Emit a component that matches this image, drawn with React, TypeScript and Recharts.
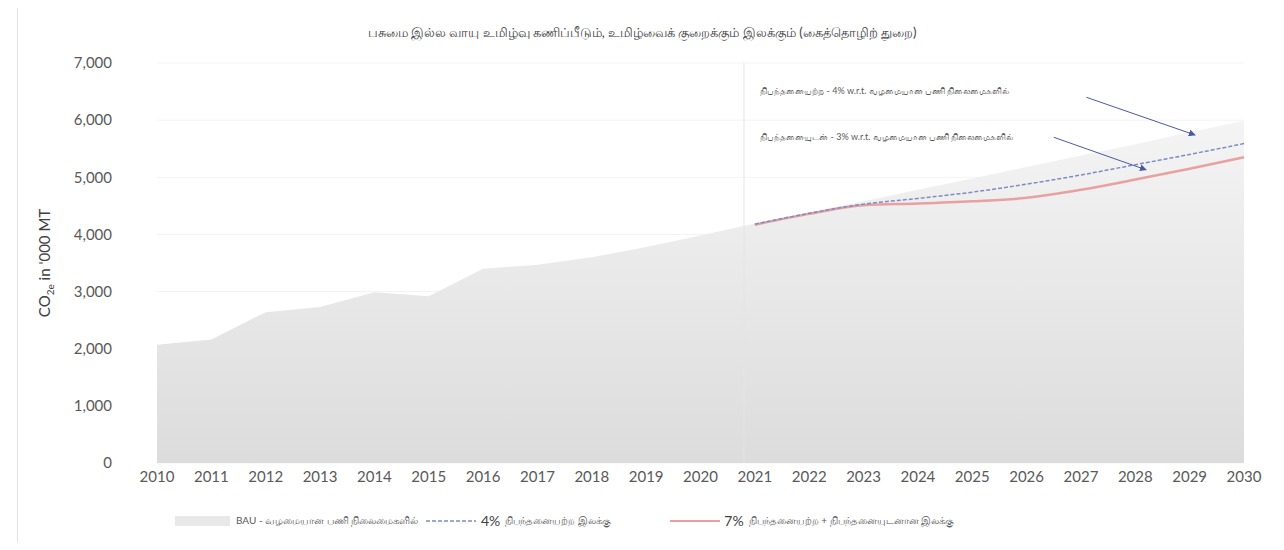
import React from 'react';
import {
  ComposedChart,
  Area,
  Line,
  XAxis,
  YAxis,
  CartesianGrid,
  ReferenceLine,
  ReferenceDot,
} from 'recharts';

// ---------- data ----------
const years = [2010, 2011, 2012, 2013, 2014, 2015, 2016, 2017, 2018, 2019, 2020, 2021, 2022, 2023, 2024, 2025, 2026, 2027, 2028, 2029, 2030];
const bau = [2070, 2160, 2640, 2730, 2990, 2920, 3400, 3470, 3600, 3780, 3980, 4190, 4390, 4580, 4780, 4980, 5180, 5380, 5580, 5790, 5990];
const target4 = [null, null, null, null, null, null, null, null, null, null, null, 4180, 4370, 4530, 4630, 4740, 4880, 5040, 5220, 5400, 5590];
const target7 = [null, null, null, null, null, null, null, null, null, null, null, 4170, 4360, 4510, 4540, 4580, 4640, 4780, 4960, 5150, 5350];
const yTicks = [0, 1000, 2000, 3000, 4000, 5000, 6000, 7000];

const titleText = 'பசுமை இல்ல வாயு உமிழ்வு கணிப்பீடும், உமிழ்வைக் குறைக்கும் இலக்கும் (கைத்தொழிற் துறை)';
const annot4Text = 'நிபந்தனையற்ற - 4% w.r.t. வழமையான பணி நிலைமைகளில்';
const annot3Text = 'நிபந்தனையுடன் - 3% w.r.t. வழமையான பணி நிலைமைகளில்';
const legendBau = 'BAU - வழமையான பணி நிலைமைகளில்';
const legend4Pct = '4%';
const legend4Text = 'நிபந்தனையற்ற இலக்கு';
const legend7Pct = '7%';
const legend7Text = 'நிபந்தனையற்ற + நிபந்தனையுடனான இலக்கு';

// annotation anchors (data coordinates)
const projectionStart = 2020.8;
const annot4Pos = { x: 2021.1, y: 6500 };
const annot3Pos = { x: 2021.1, y: 5700 };
const arrow4 = [{ x: 2027.1, y: 6400 }, { x: 2029.1, y: 5740 }];
const arrow3 = [{ x: 2026.5, y: 5700 }, { x: 2028.2, y: 5130 }];

const data = years.map((y, i) => ({ year: y, bau: bau[i], t4: target4[i], t7: target7[i] }));

const FONT = 'Lato, "Open Sans", "Noto Sans", sans-serif';
const TICK_COLOR = '#595959';
const ARROW_COLOR = '#4a5aa0';

const arrowShape = (p: any) => (
  <line x1={p.x1} y1={p.y1} x2={p.x2} y2={p.y2} stroke={ARROW_COLOR} strokeWidth={1} markerEnd="url(#arrowHead)" />
);

const annotShape = (txt: string) => (p: any) => (
  <text x={p.cx} y={p.cy} fontSize={9} fill="#595959" fontFamily={FONT} dominantBaseline="middle">
    {txt}
  </text>
);

const YLabel = (props: any) => {
  const vb = props.viewBox || { x: 0, y: 63, width: 157, height: 400 };
  const cx = vb.x + 50;
  const cy = vb.y + vb.height / 2;
  return (
    <text
      x={cx}
      y={cy}
      transform={`rotate(-90 ${cx} ${cy})`}
      textAnchor="middle"
      fontSize={15}
      fill="#404040"
      fontFamily={FONT}
    >
      <tspan>CO</tspan>
      <tspan fontSize={10} dy={4}>2e</tspan>
      <tspan dy={-4}> in '000 MT</tspan>
    </text>
  );
};

export default function App() {
  return (
    <div style={{ position: 'relative', width: 1284, height: 550, margin: -8, background: '#fff', fontFamily: FONT }}>
      <div
        style={{
          position: 'absolute',
          left: 17,
          top: 5,
          width: 1260,
          height: 538,
          border: '1px solid #e2e2e2',
          boxSizing: 'border-box',
        }}
      />
      <div
        style={{
          position: 'absolute',
          top: 24,
          left: 0,
          width: 1284,
          textAlign: 'center',
          fontSize: 13,
          color: '#404040',
        }}
      >
        {titleText}
      </div>
      <div style={{ position: 'absolute', left: 0, top: 0 }}>
        <ComposedChart width={1284} height={550} data={data} margin={{ top: 63, right: 40, bottom: 57, left: 0 }}>
          <defs>
            <linearGradient id="bauFill" x1="0" y1="0" x2="0" y2="1">
              <stop offset="0%" stopColor="#f4f4f4" />
              <stop offset="100%" stopColor="#dcdcdc" />
            </linearGradient>
            <marker id="arrowHead" viewBox="0 0 10 10" refX="9" refY="5" markerWidth="7" markerHeight="7" orient="auto-start-reverse">
              <path d="M0,0 L10,5 L0,10 z" fill={ARROW_COLOR} />
            </marker>
          </defs>
          <CartesianGrid vertical={false} stroke="#f3f3f3" />
          <XAxis
            dataKey="year"
            type="number"
            domain={[2010, 2030]}
            ticks={years}
            interval={0}
            axisLine={false}
            tickLine={false}
            tick={{ fontSize: 15, fill: TICK_COLOR, fontFamily: FONT }}
          />
          <YAxis
            type="number"
            domain={[0, 7000]}
            ticks={yTicks}
            width={157}
            axisLine={false}
            tickLine={false}
            tickMargin={39}
            tickFormatter={(v: number) => v.toLocaleString('en-US')}
            tick={{ fontSize: 15, fill: TICK_COLOR, fontFamily: FONT }}
            label={<YLabel />}
          />
          <Area
            type="linear"
            dataKey="bau"
            stroke="none"
            fill="url(#bauFill)"
            fillOpacity={1}
            isAnimationActive={false}
          />
          <ReferenceLine x={projectionStart} stroke="#e4e4e4" strokeWidth={1} />
          <Line
            type="monotone"
            dataKey="t7"
            stroke="#e8a0a0"
            strokeWidth={2.5}
            dot={false}
            isAnimationActive={false}
          />
          <Line
            type="monotone"
            dataKey="t4"
            stroke="#7f8cc0"
            strokeWidth={1.5}
            strokeDasharray="4 2"
            dot={false}
            isAnimationActive={false}
          />
          <ReferenceDot x={annot4Pos.x} y={annot4Pos.y} r={0} shape={annotShape(annot4Text)} />
          <ReferenceDot x={annot3Pos.x} y={annot3Pos.y} r={0} shape={annotShape(annot3Text)} />
          <ReferenceLine segment={arrow4} shape={arrowShape} />
          <ReferenceLine segment={arrow3} shape={arrowShape} />
        </ComposedChart>
      </div>
      {/* legend */}
      <div
        style={{
          position: 'absolute',
          top: 512,
          left: 175,
          display: 'flex',
          alignItems: 'center',
          fontSize: 10,
          color: '#595959',
          whiteSpace: 'nowrap',
        }}
      >
        <svg width={55} height={12}>
          <rect x={0} y={1} width={55} height={10} fill="#e8e8e8" />
        </svg>
        <span style={{ marginLeft: 6, width: 190 }}>{legendBau}</span>
        <svg width={50} height={12}>
          <line x1={0} y1={6} x2={50} y2={6} stroke="#7f8cc0" strokeWidth={1.5} strokeDasharray="4 2" />
        </svg>
        <span style={{ marginLeft: 5, fontSize: 14, color: '#404040' }}>{legend4Pct}</span>
        <span style={{ marginLeft: 5, width: 165 }}>{legend4Text}</span>
        <svg width={50} height={12}>
          <line x1={0} y1={6} x2={50} y2={6} stroke="#e8a0a0" strokeWidth={2} />
        </svg>
        <span style={{ marginLeft: 4, fontSize: 14, color: '#404040' }}>{legend7Pct}</span>
        <span style={{ marginLeft: 5 }}>{legend7Text}</span>
      </div>
    </div>
  );
}
